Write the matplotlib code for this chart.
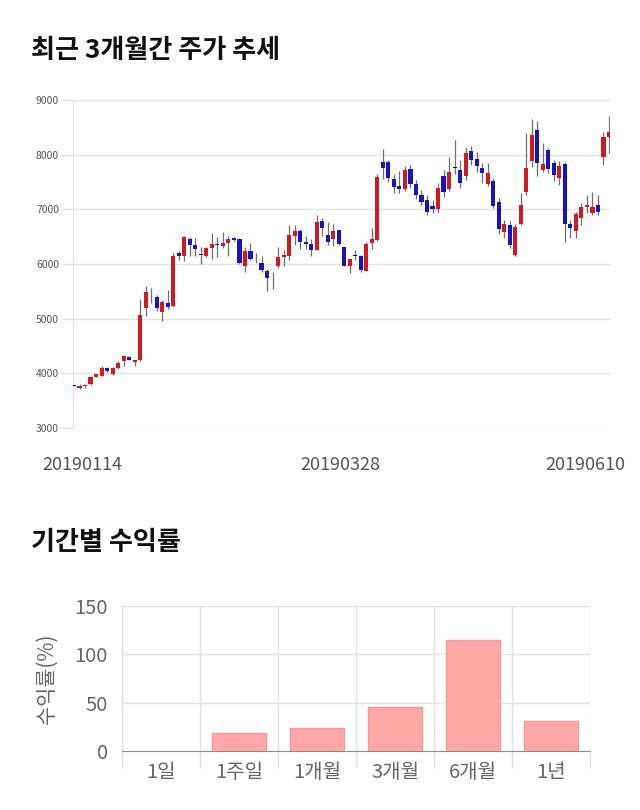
import matplotlib
matplotlib.use("Agg")
import matplotlib.pyplot as plt
from matplotlib.transforms import ScaledTranslation
import numpy as np

plt.rcParams['font.family'] = ['Noto Sans CJK KR', 'DejaVu Sans']

# ---------------- data ----------------
opens = [3780, 3740, 3770, 3800, 3940, 3960, 4100, 3990, 4100, 4220,
         4300, 4200, 4240, 5200, 5400, 5395, 5130, 5285, 5225, 6210,
         6150, 6455, 6345, 6175, 6155, 6290, 6365, 6330, 6390, 6470,
         6460, 5955, 6245, 6092, 6015, 5875, 5760, 5955, 6120, 6155,
         6515, 6607, 6400, 6370, 6255, 6790, 6530, 6450, 6625, 6310,
         5967, 6152, 6150, 5875, 6390, 6430, 7860, 7860, 7550, 7430,
         7370, 7733, 7460, 7265, 7170, 7060, 7010, 7610, 7375, 7772,
         7720, 7615, 8070, 7920, 7750, 7460, 7510, 7130, 6580, 6705,
         6156, 6725, 7313, 7880, 8450, 7720, 8080, 7850, 7570, 7830,
         6740, 6595, 6840, 7035, 6930, 7080, 7965, 8320]
highs = [3790, 3800, 3810, 3950, 3990, 4130, 4110, 4110, 4220, 4320,
         4310, 4250, 5360, 5590, 5560, 5440, 5340, 5530, 6200, 6230,
         6510, 6500, 6470, 6320, 6320, 6560, 6500, 6580, 6520, 6490,
         6470, 6320, 6380, 6200, 6140, 5900, 5860, 6320, 6260, 6720,
         6720, 6640, 6520, 6450, 6900, 6840, 6760, 6740, 6630, 6320,
         6100, 6260, 6160, 6410, 6655, 7640, 8100, 7900, 7650, 7700,
         7790, 7810, 7540, 7350, 7260, 7170, 7490, 7720, 7965, 8270,
         7900, 8140, 8160, 8050, 7840, 7840, 7570, 7200, 6810, 6780,
         6740, 7307, 8400, 8650, 8620, 8210, 8120, 7900, 7890, 7870,
         6810, 6960, 7110, 7260, 7310, 7260, 8420, 8700]
lows = [3760, 3720, 3730, 3790, 3930, 3950, 4030, 3970, 4080, 4130,
        4240, 4130, 4230, 5040, 5290, 5140, 4950, 5180, 5220, 6080,
        6050, 6150, 6150, 6000, 6130, 6100, 6130, 6300, 6150, 6420,
        6000, 5860, 6080, 6020, 5860, 5510, 5540, 5920, 5970, 6080,
        6350, 6270, 6270, 6150, 6250, 6520, 6340, 6330, 6350, 5960,
        5840, 6080, 5860, 5870, 6280, 6420, 7560, 7500, 7290, 7290,
        7330, 7390, 7180, 7080, 6890, 6940, 6940, 7230, 7330, 7650,
        7390, 7530, 7810, 7690, 7480, 7420, 7020, 6540, 6470, 6290,
        6150, 6720, 7270, 7780, 7610, 7690, 7660, 7510, 7450, 6410,
        6470, 6470, 6720, 6930, 6900, 6900, 7820, 8030]
closes = [3770, 3770, 3790, 3930, 3980, 4100, 4040, 4100, 4190, 4310,
          4250, 4240, 5070, 5480, 5390, 5195, 5300, 5205, 6150, 6150,
          6500, 6340, 6270, 6165, 6295, 6365, 6345, 6390, 6465, 6440,
          6010, 6245, 6090, 6085, 5890, 5750, 5755, 6120, 6170, 6525,
          6607, 6400, 6365, 6255, 6765, 6665, 6395, 6607, 6357, 5967,
          6095, 6145, 5895, 6365, 6465, 7600, 7750, 7568, 7400, 7375,
          7720, 7460, 7260, 7140, 6960, 7010, 7390, 7310, 7690, 7765,
          7490, 8025, 7900, 7790, 7670, 7660, 7065, 6640, 6735, 6340,
          6680, 7075, 7760, 8367, 7840, 7830, 7740, 7635, 7790, 6735,
          6665, 6910, 7035, 7075, 7035, 6945, 8325, 8410]
date_ticks = [0, 49, 97]
date_labels = ["20190114", "20190328", "20190610"]
price_ticks = [3000, 4000, 5000, 6000, 7000, 8000, 9000]

periods = ["1일", "1주일", "1개월", "3개월", "6개월", "1년"]
returns = [0.0, 19.1, 24.3, 45.8, 115.1, 31.4]
return_ticks = [0, 50, 100, 150]

# ---------------- figure ----------------
W, H = 640, 810
fig = plt.figure(figsize=(W / 100, H / 100), dpi=100)

def box(l, t, r, b):
    return [l / W, 1 - b / H, (r - l) / W, (b - t) / H]

# titles
fig.text(31 / W, 1 - 50 / H, "최근 3개월간 주가 추세", fontsize=18.8, fontweight='bold',
         va='center', ha='left', color='#111111')
fig.text(31 / W, 1 - 543 / H, "기간별 수익률", fontsize=18.8, fontweight='bold',
         va='center', ha='left', color='#111111')

# ---------------- candlestick chart ----------------
ax1 = fig.add_axes(box(73, 100, 610, 428))
n = len(opens)
x = np.arange(n)
o = np.array(opens, float); c = np.array(closes, float)
h = np.array(highs, float); l = np.array(lows, float)

RED = '#d3191f'
BLUE = '#1414c4'
ax1.vlines(x, l, h, color='#6f6f6f', lw=0.9, zorder=2)
diff = c - o
cols = np.where(np.abs(diff) < 15, '#111111', np.where(diff > 0, RED, BLUE))
bottom = np.minimum(o, c)
height = np.maximum(np.abs(diff), 14)
ax1.bar(x, height, bottom=bottom, width=0.75, color=cols, edgecolor='none', zorder=3)

ax1.set_xlim(-0.18, n - 1 + 0.18)
ax1.set_ylim(3000, 9000)
ax1.set_yticks(price_ticks)
ax1.set_yticklabels([str(v) for v in price_ticks], fontsize=7.5, color='#555555')
ax1.yaxis.grid(True, color='#e3e3e3', lw=1)
ax1.set_axisbelow(True)
ax1.tick_params(axis='y', length=9, width=1, color='#e3e3e3', pad=1)
ax1.set_xticks(date_ticks)
ax1.set_xticklabels(date_labels, fontsize=13, color='#555555')
ax1.tick_params(axis='x', length=0, pad=20)
offs = [6, -3, -17]
for lab, dx in zip(ax1.get_xticklabels(), offs):
    lab.set_transform(lab.get_transform() + ScaledTranslation(dx / 72, 0, fig.dpi_scale_trans))
for s in ['top', 'right', 'bottom']:
    ax1.spines[s].set_visible(False)
ax1.spines['left'].set_color('#e3e3e3')

# ---------------- returns bar chart ----------------
ax2 = fig.add_axes(box(122, 606, 590, 751))
xb = np.arange(len(periods))
edge = ['none' if v == 0 else '#f59a9a' for v in returns]
ax2.bar(xb, returns, width=0.69, color='#ffa8a8', edgecolor=edge, lw=1, zorder=3)
ax2.set_xlim(-0.5, len(periods) - 0.5)
ax2.set_ylim(0, 150)
ax2.set_yticks(return_ticks)
ax2.set_yticklabels([str(v) for v in return_ticks], fontsize=14.5, color='#666666')
ax2.tick_params(axis='y', length=0, pad=10)
ax2.set_xticks(np.arange(len(periods) + 1) - 0.5)
ax2.set_xticklabels([''] * (len(periods) + 1))
ax2.set_xticks(xb, minor=True)
ax2.set_xticklabels(periods, minor=True, fontsize=14.5, color='#666666')
ax2.tick_params(axis='x', which='major', length=12, width=1, color='#e0e0e0')
ax2.tick_params(axis='x', which='minor', length=0, pad=8)
ax2.yaxis.grid(True, color='#e3e3e3', lw=1)
ax2.xaxis.grid(True, which='major', color='#e3e3e3', lw=1)
ax2.set_axisbelow(True)
for s in ['top', 'right']:
    ax2.spines[s].set_visible(False)
ax2.spines['left'].set_color('#e0e0e0')
ax2.spines['bottom'].set_color('#8c8c8c')
ax2.set_ylabel("수익률(%)", fontsize=15, color='#666666', labelpad=12)

fig.savefig("out.png", dpi=100)
